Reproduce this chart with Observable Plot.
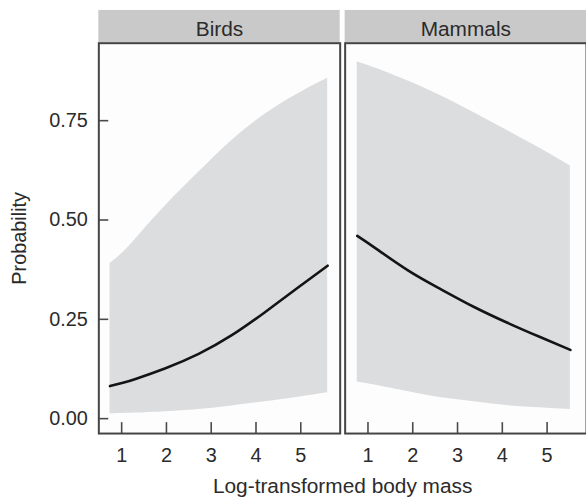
<!DOCTYPE html>
<html>
<head>
<meta charset="utf-8">
<script src="https://cdn.jsdelivr.net/npm/d3@7"></script>
<script src="https://cdn.jsdelivr.net/npm/@observablehq/plot@0.6"></script>
<style>
  html, body { margin: 0; padding: 0; background: #ffffff; overflow: hidden; }
  #chart { width: 586px; height: 500px; overflow: hidden; }
</style>
</head>
<body>
<div id="chart"></div>
<script>
// ---- data ----
const groups = ["Birds", "Mammals"];

const birdsX     = [0.74, 1.05, 1.31, 1.98, 2.72, 3.46, 4.2, 4.94, 5.6];
const birdsFit   = [0.082, 0.091, 0.100, 0.127, 0.163, 0.210, 0.268, 0.330, 0.385];
const birdsLower = [0.0125, 0.013, 0.014, 0.0175, 0.023, 0.032, 0.0425, 0.054, 0.065];
const birdsUpper = [0.390, 0.420, 0.452, 0.536, 0.620, 0.700, 0.766, 0.818, 0.857];

const mammalsX     = [0.76, 1.18, 1.91, 2.64, 3.37, 4.1, 4.83, 5.52];
const mammalsFit   = [0.460, 0.428, 0.372, 0.325, 0.281, 0.242, 0.206, 0.173];
const mammalsLower = [0.0925, 0.084, 0.0675, 0.0525, 0.0425, 0.033, 0.0275, 0.023];
const mammalsUpper = [0.898, 0.882, 0.849, 0.812, 0.770, 0.726, 0.681, 0.636];

const xTicks = [1, 2, 3, 4, 5];
const yTicks = [0, 0.25, 0.5, 0.75];
const yTickLabels = ["0.00", "0.25", "0.50", "0.75"];
const xLabel = "Log-transformed body mass";
const yLabel = "Probability";

// ---- build table ----
const rows = [];
birdsX.forEach((x, i) => rows.push({group: groups[0], x, fit: birdsFit[i], lower: birdsLower[i], upper: birdsUpper[i]}));
mammalsX.forEach((x, i) => rows.push({group: groups[1], x, fit: mammalsFit[i], lower: mammalsLower[i], upper: mammalsUpper[i]}));

const font = "'Liberation Sans', Arial, Helvetica, sans-serif";

// layout
const W = 590, H = 500, mL = 99, mT = 43, mB = 64;
const gap = 0.0202;
const bandW = (W - mL) / (2 - gap) * (1 - gap);
const panelH = H - mT - mB;
const tickLen = 11;

const plot = Plot.plot({
  width: W,
  height: H,
  marginLeft: mL,
  marginRight: 0,
  marginTop: mT,
  marginBottom: mB,
  style: {fontFamily: font, fontSize: "20px", color: "#2b2b2b", background: "transparent", overflow: "visible"},
  fx: {domain: groups, paddingInner: gap, paddingOuter: 0, label: null},
  x: {domain: [0.49, 5.88]},
  y: {domain: [-0.0375, 0.945]},
  marks: [
    Plot.frame({fill: "#fdfdfd"}),
    Plot.areaY(rows, {fx: "group", x: "x", y1: "lower", y2: "upper", fill: "#dcdddf", curve: "natural"}),
    Plot.lineY(rows, {fx: "group", x: "x", y: "fit", stroke: "#141414", strokeWidth: 2.6, curve: "natural"}),
    // inward tick marks
    Plot.ruleX(xTicks, {x: d => d, insetTop: panelH - tickLen, stroke: "#4a4a4a", strokeWidth: 1.6}),
    Plot.ruleY(yTicks, {y: d => d, fx: () => groups[0], insetRight: bandW - tickLen + 1, stroke: "#4a4a4a", strokeWidth: 1.6}),
    Plot.frame({stroke: "#444", strokeWidth: 2}),
    Plot.axisX({ticks: xTicks, tickSize: 0, tickPadding: 14, tickFormat: d => String(d), label: null, fontSize: 20}),
    Plot.axisY({ticks: yTicks, tickSize: 0, tickPadding: 11, tickFormat: d => yTickLabels[yTicks.indexOf(d)], fontSize: 20,
      label: yLabel, labelAnchor: "center", labelArrow: "none", labelOffset: 88}),
    Plot.axisFx({anchor: "top", tickSize: 0, tickPadding: 7, label: null, fontSize: 21}),
    Plot.axisFx({anchor: "bottom", ticks: [], tickSize: 0, label: xLabel, labelAnchor: "center", labelArrow: "none", labelOffset: 60, fontSize: 21})
  ]
});

// strip backgrounds placed with the library's fx scale
const fxs = plot.scale("fx");
const svgNode = plot.tagName.toLowerCase() === "svg" ? plot : plot.querySelector("svg");
const firstChild = svgNode.querySelector("g, path, rect, text");
groups.forEach(g => {
  const r = document.createElementNS("http://www.w3.org/2000/svg", "rect");
  r.setAttribute("x", fxs.apply(g));
  r.setAttribute("y", 10);
  r.setAttribute("width", fxs.bandwidth);
  r.setAttribute("height", mT - 10);
  r.setAttribute("fill", "#c9c9ca");
  svgNode.insertBefore(r, firstChild);
});

document.getElementById("chart").appendChild(plot);
</script>
</body>
</html>
